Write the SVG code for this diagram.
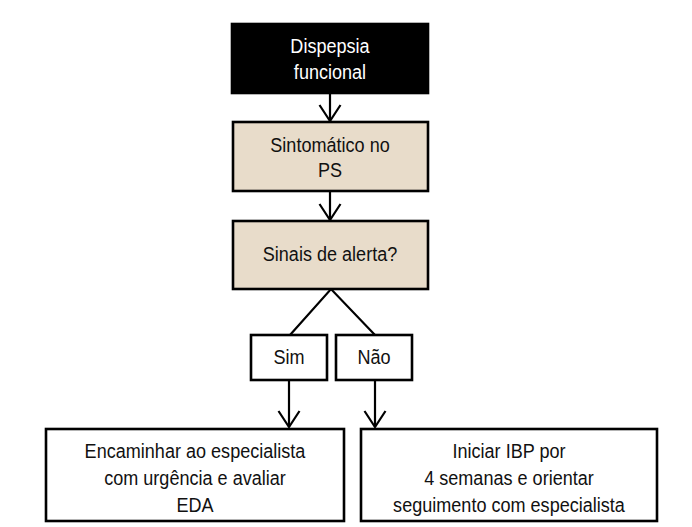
<svg xmlns="http://www.w3.org/2000/svg" width="692" height="527" viewBox="0 0 692 527">
<style>
.box{stroke:#000;stroke-width:2.6}
.beige{fill:#E8DCCA}
.white{fill:#fff}
.t{font-family:"Liberation Sans Narrow","Liberation Sans",Arial,sans-serif;font-size:21px;text-anchor:middle;fill:#111}
.conn{stroke:#000;stroke-width:2.2;fill:none}
</style>
<defs>
<marker id="arr" markerUnits="userSpaceOnUse" markerWidth="40" markerHeight="40" viewBox="-20 -20 40 40" refX="0" refY="0" orient="auto" overflow="visible">
<path d="M-16,-10.5 L0,0 L-16,10.5" fill="none" stroke="#000" stroke-width="2.2"/>
</marker>
</defs>
<rect width="692" height="527" fill="#fff"/>
<g id="connectors">
<line class="conn" x1="330" y1="93" x2="330" y2="121" marker-end="url(#arr)"/>
<line class="conn" x1="330" y1="191" x2="330" y2="220" marker-end="url(#arr)"/>
<polyline class="conn" points="290,335 331,289 375,335"/>
<line class="conn" x1="289" y1="380" x2="289" y2="427" marker-end="url(#arr)"/>
<line class="conn" x1="375" y1="380" x2="375" y2="427" marker-end="url(#arr)"/>
</g>
<g id="n1">
<rect class="box" x="232" y="24" width="196" height="69" fill="#000"/>
<text class="t" transform="translate(330,53) scale(0.86,1)" style="fill:#fff">Dispepsia</text>
<text class="t" transform="translate(330,79) scale(0.86,1)" style="fill:#fff">funcional</text>
</g>
<g id="n2">
<rect class="box beige" x="233" y="122" width="195" height="69"/>
<text class="t" transform="translate(330,152) scale(0.86,1)">Sintomático no</text>
<text class="t" transform="translate(330,177) scale(0.86,1)">PS</text>
</g>
<g id="n3">
<rect class="box beige" x="233" y="221" width="195" height="68"/>
<text class="t" transform="translate(330,261) scale(0.86,1)">Sinais de alerta?</text>
</g>
<g id="sim">
<rect class="box white" x="251" y="335" width="76" height="45"/>
<text class="t" transform="translate(289,364) scale(0.86,1)">Sim</text>
</g>
<g id="nao">
<rect class="box white" x="336" y="335" width="76" height="45"/>
<text class="t" transform="translate(374,364) scale(0.86,1)">Não</text>
</g>
<g id="left">
<rect class="box white" x="46" y="429" width="298" height="92"/>
<text class="t" transform="translate(195,458) scale(0.86,1)">Encaminhar ao especialista</text>
<text class="t" transform="translate(195,485) scale(0.86,1)">com urgência e avaliar</text>
<text class="t" transform="translate(195,512) scale(0.86,1)">EDA</text>
</g>
<g id="right">
<rect class="box white" x="361" y="429" width="296" height="92"/>
<text class="t" transform="translate(509,458) scale(0.86,1)">Iniciar IBP por</text>
<text class="t" transform="translate(509,485) scale(0.86,1)">4 semanas e orientar</text>
<text class="t" transform="translate(509,512) scale(0.86,1)">seguimento com especialista</text>
</g>
</svg>
